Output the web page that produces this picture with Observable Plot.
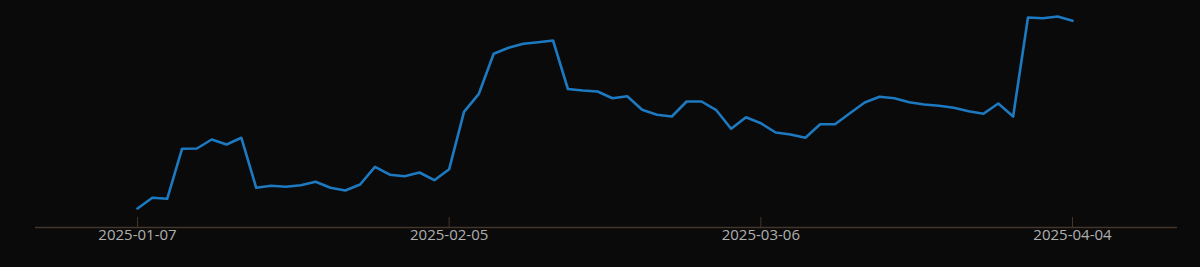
<!DOCTYPE html>
<html>
<head>
<meta charset="utf-8">
<script src="https://cdn.jsdelivr.net/npm/d3@7"></script>
<script src="https://cdn.jsdelivr.net/npm/@observablehq/plot@0.6"></script>
<style>
  html, body { margin: 0; padding: 0; background: #0a0a0a; }
  #chart { width: 1200px; height: 267px; }
</style>
</head>
<body>
<div id="chart"></div>
<script>
const dates = [
  "2025-01-07","2025-01-08","2025-01-09","2025-01-10","2025-01-13","2025-01-14","2025-01-15","2025-01-16","2025-01-17",
  "2025-01-20","2025-01-21","2025-01-22","2025-01-23","2025-01-24","2025-01-27","2025-01-28","2025-01-29","2025-01-30","2025-01-31",
  "2025-02-03","2025-02-04","2025-02-05","2025-02-06","2025-02-07","2025-02-10","2025-02-11","2025-02-12","2025-02-13","2025-02-14",
  "2025-02-17","2025-02-18","2025-02-19","2025-02-20","2025-02-21","2025-02-24","2025-02-25","2025-02-26","2025-02-27","2025-02-28",
  "2025-03-03","2025-03-04","2025-03-05","2025-03-06","2025-03-07","2025-03-10","2025-03-11","2025-03-12","2025-03-13","2025-03-14",
  "2025-03-17","2025-03-18","2025-03-19","2025-03-20","2025-03-21","2025-03-24","2025-03-25","2025-03-26","2025-03-27","2025-03-28",
  "2025-03-31","2025-04-01","2025-04-02","2025-04-03","2025-04-04"
];
const values = [
  1.90, 2.97, 2.87, 7.87, 7.90, 8.80, 8.30, 8.97, 3.97,
  4.17, 4.07, 4.23, 4.57, 3.97, 3.70, 4.30, 6.07, 5.28, 5.13,
  5.50, 4.73, 5.83, 11.57, 13.37, 17.37, 17.97, 18.37, 18.53, 18.70,
  13.85, 13.70, 13.60, 12.93, 13.13, 11.77, 11.27, 11.10, 12.60, 12.60,
  11.73, 9.87, 11.03, 10.43, 9.50, 9.30, 8.97, 10.33, 10.33, 11.43,
  12.50, 13.07, 12.93, 12.53, 12.30, 12.17, 11.97, 11.63, 11.37, 12.40,
  11.10, 21.00, 20.93, 21.10, 20.67
];
const tickLabels = ["2025-01-07", "2025-02-05", "2025-03-06", "2025-04-04"];

const data = dates.map((d, i) => ({date: d, value: values[i]}));

const chart = Plot.plot({
  width: 1200,
  height: 267,
  marginLeft: 35,
  marginRight: 23,
  marginTop: 0,
  marginBottom: 40,
  style: {background: "#0a0a0a", fontFamily: "Open Sans", fontSize: "15px", color: "#b0b0b0"},
  x: {type: "point", domain: dates, padding: 0, insetLeft: 102, insetRight: 105},
  y: {domain: [0, 22.7], axis: null},
  marks: [
    Plot.ruleY([0], {stroke: "#43352a", strokeWidth: 1.5}),
    Plot.axisX({ticks: tickLabels, tickSize: -10, tickPadding: 12, stroke: "#43352a", fill: "#b0b0b0", fontSize: 15, label: null}),
    Plot.line(data, {x: "date", y: "value", stroke: "#1d79c0", strokeWidth: 2.6})
  ]
});
document.getElementById("chart").appendChild(chart);
</script>
</body>
</html>
